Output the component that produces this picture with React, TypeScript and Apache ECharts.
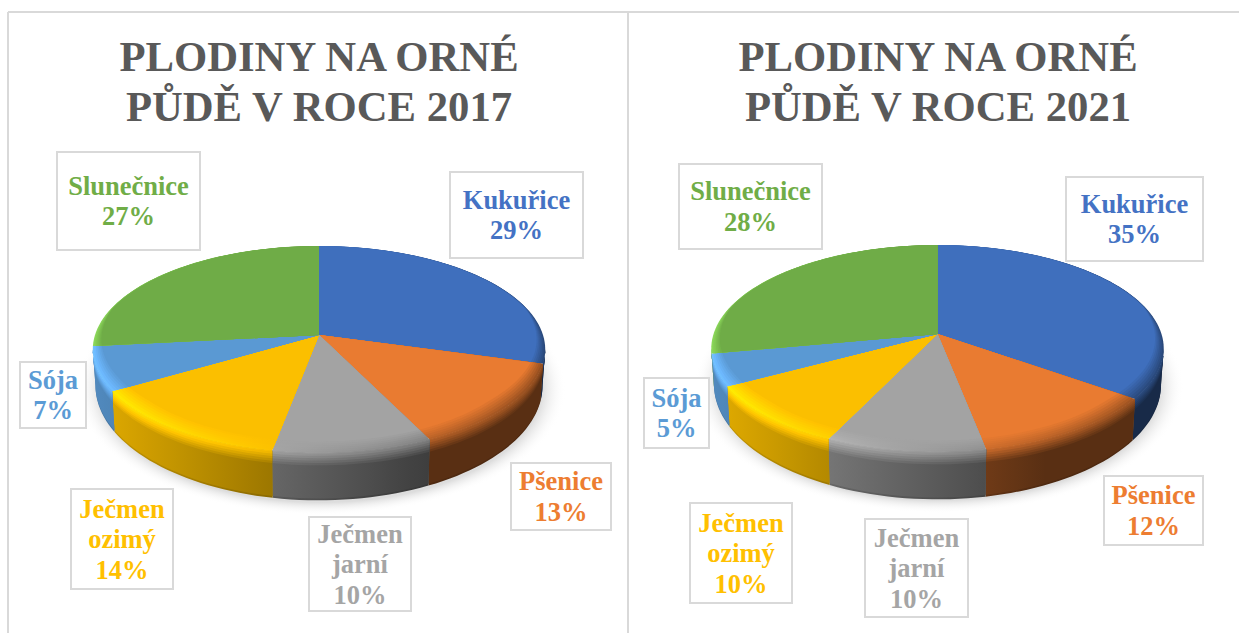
import React, { useEffect, useRef } from "react";
import * as echarts from "echarts";

const crops = ["Kukuřice", "Pšenice", "Ječmen\njarní", "Ječmen\nozimý", "Sója", "Slunečnice"];
const colors = ["#4472C4", "#ED7D31", "#A5A5A5", "#FFC000", "#5B9BD5", "#70AD47"];
const faceColors = ["#3F6FBD", "#E97B31", "#A3A3A3", "#FBBF00", "#5A99D3", "#6FAC47"];
const values2017 = [29.4, 13.49, 10.0, 13.5, 6.9, 26.71];
const values2021 = [35, 12, 10, 10, 5, 28];
const titles = ["PLODINY NA ORNÉ\nPŮDĚ V ROCE 2017", "PLODINY NA ORNÉ\nPŮDĚ V ROCE 2021"];

// layout only: [x0, y0, x1, y1] of each label box
const boxes2017 = [[450, 172, 583, 258], [511, 463, 611, 530], [309, 517, 411, 611], [71, 489, 173, 589], [20, 362, 86, 428], [57, 152, 200, 250]];
const boxes2021 = [[1066, 177, 1203, 261], [1104, 476, 1203, 545], [865, 519, 968, 617], [690, 503, 792, 603], [644, 378, 709, 448], [679, 164, 822, 249]];

const R = 224, A = 101.5, K = 0.14;
const BEVEL = 0.085, WALL_FROM = 98, WALL_TO = 262;
const rad = (d: number) => (d * Math.PI) / 180;
const hex = (c: string) => [1, 3, 5].map((i) => parseInt(c.slice(i, i + 2), 16));
const toCss = (rgb: number[]) => `rgb(${rgb.map((v) => Math.max(0, Math.min(255, Math.round(v)))).join(",")})`;
const mix = (a: number[], b: number[], t: number) => a.map((v, i) => v + (b[i] - v) * t);
const scale = (a: number[], s: number) => a.map((v) => v * s);

function project(cx: number, cy: number, deg: number, f: number) {
  const X = f * Math.sin(rad(deg)), Y = f * Math.cos(rad(deg));
  const w = 1 + K * Y;
  return { x: cx + (R * X) / w, y: cy - (A * Y) / w, w };
}
function arcAngles(a: number, b: number) {
  const out: number[] = [];
  const n = Math.max(2, Math.ceil((b - a) / 2));
  for (let i = 0; i <= n; i++) out.push(a + ((b - a) * i) / n);
  return out;
}
const bevelWeight = (deg: number) => Math.max(0.08, Math.min(1, 0.35 - Math.cos(rad(deg))));
const crest = (c: number[], u: number) => scale(c, 1.25 - 0.6 * u);
const wall = (c: number[], u: number) => scale(c, Math.max(0.38, 0.9 - 0.7 * u));

function shaded(points: number[][], cx: number, fn: (u: number) => number[]) {
  const xs = points.map((p) => p[0]);
  const x0 = Math.min(...xs), x1 = Math.max(...xs);
  const stops = [0, 0.2, 0.4, 0.6, 0.8, 1].map((o) => {
    const x = x0 + (x1 - x0) * o;
    return { offset: o, color: toCss(fn((x - cx + R) / (2 * R))) };
  });
  return new echarts.graphic.LinearGradient(0, 0, 1, 0, stops);
}
const poly = (points: number[][], fill: any) => ({ type: "polygon", silent: true, shape: { points }, style: { fill, stroke: null } });

function sliceChildren(cx: number, cy: number, start: number, end: number, base: number[]) {
  const kids: any[] = [];
  const a = Math.max(start, WALL_FROM), b = Math.min(end, WALL_TO);
  if (b > a) {
    const angles = arcAngles(a, b);
    const top = angles.map((d) => project(cx, cy, d, 1));
    const layer = (q: number) => {
      const lower = top.map((p) => [cx + (p.x - cx) * (1 - 0.012 * q), p.y + (q * 35) / (p.w * p.w)]);
      return [...top.map((p) => [p.x, p.y]), ...lower.reverse()];
    };
    let pts = layer(1);
    kids.push(poly(pts, shaded(pts, cx, (u) => scale(wall(base, u), 0.88))));
    pts = layer(0.96);
    kids.push(poly(pts, shaded(pts, cx, (u) => wall(base, u))));
    const N = 6;
    for (let i = 1; i <= N; i++) {
      const s = i / N;
      pts = layer(0.3 * (1 - s) + 0.01);
      kids.push(poly(pts, shaded(pts, cx, (u) => mix(wall(base, u), crest(base, u), s))));
    }
  }
  const angles = arcAngles(start, end);
  const N = 6;
  for (let i = 0; i <= N; i++) {
    const t = i / N;
    const pts = [[cx, cy], ...angles.map((d) => {
      const p = project(cx, cy, d, 1 - BEVEL * bevelWeight(d) * t);
      return [p.x, p.y];
    })];
    kids.push(poly(pts, i === N ? toCss(base) : shaded(pts, cx, (u) => mix(crest(base, u), base, t))));
  }
  return kids;
}

function pieSeries(name: string, values: number[], cx: number, cy: number) {
  const total = values.reduce((s, v) => s + v, 0);
  return {
    type: "custom",
    name,
    coordinateSystem: "none",
    silent: true,
    data: values.map((v) => [v]),
    renderItem: (params: any, api: any) => {
      const before = values.slice(0, params.dataIndex).reduce((s, v) => s + v, 0);
      const start = (before / total) * 360;
      const end = start + (api.value(0) / total) * 360;
      return { type: "group", children: sliceChildren(cx, cy, start, end, hex(faceColors[params.dataIndex])) };
    },
  };
}

function labelBoxes(values: number[], boxes: number[][]) {
  const total = values.reduce((s, v) => s + v, 0);
  return values.flatMap((v, i) => {
    const [x0, y0, x1, y1] = boxes[i];
    return [
      { type: "rect", z: 10, silent: true, shape: { x: x0, y: y0, width: x1 - x0, height: y1 - y0 }, style: { fill: "#fff", stroke: "#d9d9d9", lineWidth: 2 } },
      {
        type: "text", z: 11, silent: true, x: (x0 + x1) / 2, y: (y0 + y1) / 2,
        style: {
          text: `${crops[i]}\n${Math.round((v / total) * 100)}%`,
          fill: colors[i], font: 'bold 26.5px "Liberation Serif"', lineHeight: 30.5,
          align: "center", verticalAlign: "middle",
        },
      },
    ];
  });
}

const shadow = (cx: number, cy: number) => ({
  type: "ellipse", z: 1, silent: true,
  shape: { cx, cy, rx: 245, ry: 126 },
  style: {
    fill: new echarts.graphic.RadialGradient(0.5, 0.5, 0.5, [
      { offset: 0, color: "#dddddd" },
      { offset: 0.9, color: "#dddddd" },
      { offset: 1, color: "rgba(255,255,255,0)" },
    ]),
  },
});
const frameLine = (x1: number, y1: number, x2: number, y2: number) => ({
  type: "line", z: 0, silent: true, shape: { x1, y1, x2, y2 }, style: { stroke: "#d9d9d9", lineWidth: 2 },
});

export default function App() {
  const ref = useRef<HTMLDivElement>(null);
  useEffect(() => {
    document.body.style.margin = "0";
    document.body.style.overflow = "hidden";
    const chart = echarts.init(ref.current!, null, { renderer: "svg" });
    const titleStyle = { fontFamily: "Liberation Serif", fontWeight: "bold" as const, fontSize: 42.7, lineHeight: 50, color: "#595959" };
    chart.setOption({
      animation: false,
      backgroundColor: "#fff",
      title: [
        { text: titles[0], left: 319, top: 31, padding: 0, textAlign: "center", textStyle: titleStyle },
        { text: titles[1], left: 938, top: 31, padding: 0, textAlign: "center", textStyle: titleStyle },
      ],
      graphic: [
        frameLine(8, 12, 1239, 12),
        frameLine(8, 12, 8, 633),
        frameLine(628, 12, 628, 633),
        shadow(321, 389),
        shadow(939, 387),
        ...labelBoxes(values2017, boxes2017),
        ...labelBoxes(values2021, boxes2021),
      ],
      series: [pieSeries("2017", values2017, 319, 335), pieSeries("2021", values2021, 937.5, 334)],
    });
    return () => chart.dispose();
  }, []);
  return <div ref={ref} style={{ width: 1239, height: 633 }} />;
}
